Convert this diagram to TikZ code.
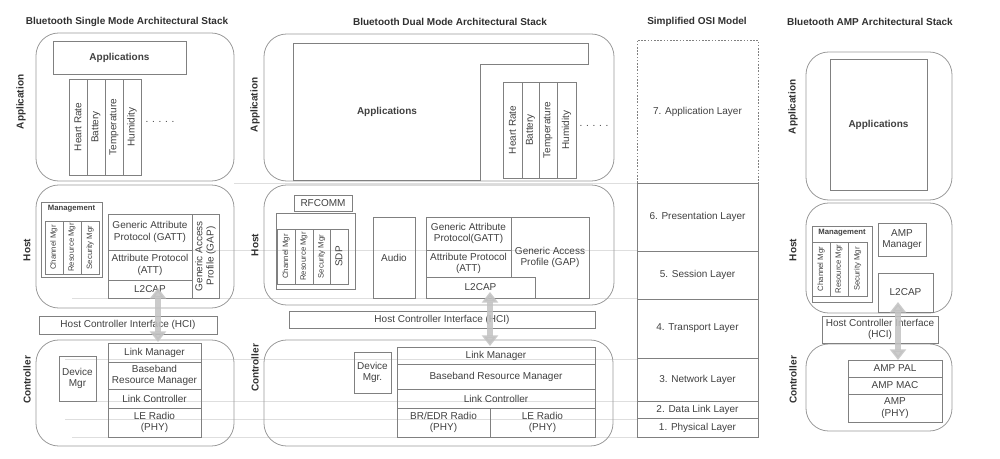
\documentclass[tikz,border=0pt]{standalone}
\usepackage{fontspec}
\setmainfont{Liberation Sans}
\usetikzlibrary{arrows.meta}
\definecolor{ln}{HTML}{808080}
\definecolor{rl}{HTML}{9A9A9A}
\definecolor{tx}{HTML}{404040}
\definecolor{tt}{HTML}{303030}
\definecolor{gd}{HTML}{DEDEDE}
\definecolor{ar}{HTML}{C2C2C2}
\newcommand\fsz{\fontsize{7.5}{8.4}\selectfont}
\newcommand\fsm{\fontsize{5.8}{6.8}\selectfont}
\newcommand\mybox[7][]{\node[box,minimum width={(#5-#3)*0.75pt},minimum height={(#6-#4)*0.75pt},#1] (#2) at ({(#3+#5)/2},{(#4+#6)/2}) {#7};}
\newcommand\myvbox[7][]{\node[box,rotate=90,minimum width={(#6-#4)*0.75pt},minimum height={(#5-#3)*0.75pt},#1] (#2) at ({(#3+#5)/2},{(#4+#6)/2}) {#7};}
\begin{document}
\begin{tikzpicture}[x=0.75pt,y=-0.75pt,
  box/.style={draw=ln,line width=0.6pt,inner sep=0pt,outer sep=0pt,align=center,text=tx,font=\fsz},
  rbox/.style={draw=rl,rounded corners=17pt},
  bfont/.style={font=\fsz\bfseries},
  small/.style={font=\fsm},
  txt/.style={text=tx,font=\fsz,inner sep=0pt},
  sbold/.style={text=tx,font=\fsm\bfseries,inner sep=0pt},
  ttl/.style={text=tt,font=\fsz\bfseries,inner sep=0pt},
  lbl/.style={text=tt,font=\fsz\bfseries,inner sep=0pt,rotate=90},
  guide/.style={draw=gd,line width=0.5pt},
  dbl/.style={draw=ar,line width=4.5pt,opacity=0.85,{Triangle[length=8pt,width=12pt]}-{Triangle[length=8pt,width=12pt]}},
  osid/.style={draw=ln,line width=0.6pt,dash pattern=on 1.2pt off 1.2pt}]
\useasboundingbox (0,0) rectangle (1000,459);
% guide lines
\coordinate (g1a) at (234,183); \coordinate (g1b) at (637,183);
\coordinate (g2a) at (190,250); \coordinate (g2b) at (637,250);
\coordinate (g3a) at (72,298);  \coordinate (g3b) at (637,298);
\coordinate (g4a) at (65,359);  \coordinate (g4b) at (637,359);
\coordinate (g5a) at (96,401);  \coordinate (g5b) at (637,401);
\coordinate (g6a) at (65,419);  \coordinate (g6b) at (637,419);
\coordinate (g7a) at (72,437);  \coordinate (g7b) at (637,437);
\foreach \i in {1,...,7} {\draw[guide] (g\i a) -- (g\i b);}
% titles
\node[ttl] (t1) at (127,22) {Bluetooth Single Mode Architectural Stack};
\node[ttl] (t2) at (450,22) {Bluetooth Dual Mode Architectural Stack};
\node[ttl] (t3) at (697,22) {Simplified OSI Model};
\node[ttl] (t4) at (870,22) {Bluetooth AMP Architectural Stack};
% ================= single mode
\mybox[rbox]{appS}{36}{33}{234}{181}{}
\mybox[rbox]{hostS}{36}{185}{234}{308}{}
\mybox[rbox]{ctrlS}{36}{340}{234}{446}{}
\node[lbl] (laS) at (21,102) {Application};
\node[lbl] (lhS) at (27,250) {Host};
\node[lbl] (lcS) at (27,380) {Controller};
\mybox[bfont]{appsS}{53}{41}{186}{74}{Applications}
\myvbox{hrS}{69}{79}{87}{175}{Heart Rate}
\myvbox{btS}{87}{79}{105}{175}{Battery}
\myvbox{tpS}{105}{79}{123}{175}{Temperature}
\myvbox{hmS}{123}{79}{141}{175}{Humidity}
\node[txt] (dotsS) at (160,122) {. . . . .};
\mybox{mgS}{41}{202}{102}{277}{}
\node[sbold] (mgtS) at (71.5,209) {Management};
\myvbox[small]{chS}{45}{221}{63}{274}{Channel Mgr}
\myvbox[small]{rsS}{63}{221}{81}{274}{Resource Mgr}
\myvbox[small]{scS}{81}{221}{99}{274}{Security Mgr}
\mybox{gattS}{108}{214}{192}{250}{Generic Attribute\\Protocol (GATT)}
\mybox{attS}{108}{250}{192}{280}{Attribute Protocol\\(ATT)}
\mybox{l2S}{108}{280}{192}{298}{L2CAP}
\myvbox{gapS}{192}{214}{219}{298}{Generic Access\\Profile (GAP)}
\mybox{hciS}{39}{316}{217}{334}{Host Controller Interface (HCI)}
\mybox{dmS}{59}{356}{96}{401}{Device\\Mgr}
\mybox{lmS}{108}{343}{201}{362}{Link Manager}
\mybox{brmS}{108}{362}{201}{389}{Baseband\\Resource Manager}
\mybox{lcS}{108}{389}{201}{408}{Link Controller}
\mybox{leS}{108}{408}{201}{437}{LE Radio\\(PHY)}
% ================= dual mode
\mybox[rbox]{appD}{264}{34}{614}{181}{}
\mybox[rbox]{hostD}{264}{185}{614}{305}{}
\mybox[rbox]{ctrlD}{264}{340}{613}{446}{}
\node[lbl] (laD) at (255,105) {Application};
\node[lbl] (lhD) at (255,245) {Host};
\node[lbl] (lcD) at (255,368) {Controller};
\draw[draw=ln,line width=0.6pt] (293,43) -- (588,43) -- (588,64) -- (480,64) -- (480,180) -- (293,180) -- cycle;
\node[txt,font=\fsz\bfseries] (appsD) at (387,112) {Applications};
\myvbox{hrD}{503}{82}{522}{178}{Heart Rate}
\myvbox{btD}{522}{82}{539}{178}{Battery}
\myvbox{tpD}{539}{82}{557}{178}{Temperature}
\myvbox{hmD}{557}{82}{576}{178}{Humidity}
\node[txt] (dotsD) at (594,126) {. . . . .};
\mybox{rfD}{294}{195}{352}{211}{RFCOMM}
\mybox{mgD}{276}{213}{355}{289}{}
\myvbox[small]{chD}{277}{229}{295}{284}{Channel Mgr}
\myvbox[small]{rsD}{295}{229}{313}{284}{Resource Mgr}
\myvbox[small]{scD}{313}{229}{330}{284}{Security Mgr}
\myvbox{sdD}{330}{229}{348}{284}{SDP}
\mybox{auD}{373}{217}{415}{298}{Audio}
\mybox{gattD}{426}{217}{511}{250}{Generic Attribute\\Protocol(GATT)}
\mybox{attD}{426}{250}{511}{277}{Attribute Protocol\\(ATT)}
\mybox{gapD}{511}{217}{589}{298}{Generic Access\\Profile (GAP)}
\mybox[fill=white]{l2D}{426}{277}{535}{298}{L2CAP}
\mybox{hciD}{289}{311}{595}{328}{Host Controller Interface (HCI)}
\mybox{dmD}{354}{352}{391}{393}{Device\\Mgr.}
\mybox{lmD}{397}{347}{595}{364}{Link Manager}
\mybox{brmD}{397}{364}{595}{389}{Baseband Resource Manager}
\mybox{lcD}{397}{389}{595}{408}{Link Controller}
\mybox{brD}{397}{408}{490}{437}{BR/EDR Radio\\(PHY)}
\mybox{leD}{490}{408}{595}{437}{LE Radio\\(PHY)}
% ================= OSI
\mybox[draw=none]{osi7}{637}{40}{758}{183}{7. Application Layer}
\draw[osid] (osi7.south west) -- (osi7.north west) -- (osi7.north east) -- (osi7.south east);
\mybox{osi6}{637}{183}{758}{251}{6. Presentation Layer}
\mybox{osi5}{637}{251}{758}{299}{5. Session Layer}
\mybox{osi4}{637}{299}{758}{358}{4. Transport Layer}
\mybox{osi3}{637}{358}{758}{401}{3. Network Layer}
\mybox{osi2}{637}{401}{758}{418}{2. Data Link Layer}
\mybox{osi1}{637}{418}{758}{437}{1. Physical Layer}
% ================= AMP
\mybox[rbox]{appA}{806}{52}{952}{200}{}
\mybox[rbox]{hostA}{806}{203}{952}{313}{}
\mybox[rbox]{ctrlA}{806}{344}{952}{431}{}
\node[lbl] (laA) at (793,107) {Application};
\node[lbl] (lhA) at (793,250) {Host};
\node[lbl] (lcA) at (793,380) {Controller};
\mybox[bfont]{appsA}{830}{59}{927}{190}{Applications}
\mybox{mgA}{812}{226}{872}{302}{}
\node[sbold] (mgtA) at (842,233) {Management};
\myvbox[small]{chA}{812}{242}{830}{296}{Channel Mgr}
\myvbox[small]{rsA}{830}{242}{848}{296}{Resource Mgr}
\myvbox[small]{scA}{848}{242}{867}{296}{Security Mgr}
\mybox{ampmA}{878}{223}{926}{256}{AMP\\Manager}
\mybox{l2A}{878}{273}{933}{312}{L2CAP}
\mybox{hciA}{822}{316}{938}{343}{Host Controller Interface\\(HCI)}
\mybox{palA}{848}{360}{942}{377}{AMP PAL}
\mybox{macA}{848}{377}{942}{394}{AMP MAC}
\mybox{phyA}{848}{394}{942}{422}{AMP\\(PHY)}
% ================= arrows
\coordinate (aS1) at (158,288); \coordinate (aS2) at (158,342);
\coordinate (aD1) at (490,292); \coordinate (aD2) at (490,346);
\coordinate (aA1) at (898,302); \coordinate (aA2) at (898,360);
\draw[dbl] (aS1) -- (aS2);
\draw[dbl] (aD1) -- (aD2);
\draw[dbl] (aA1) -- (aA2);
\end{tikzpicture}
\end{document}
